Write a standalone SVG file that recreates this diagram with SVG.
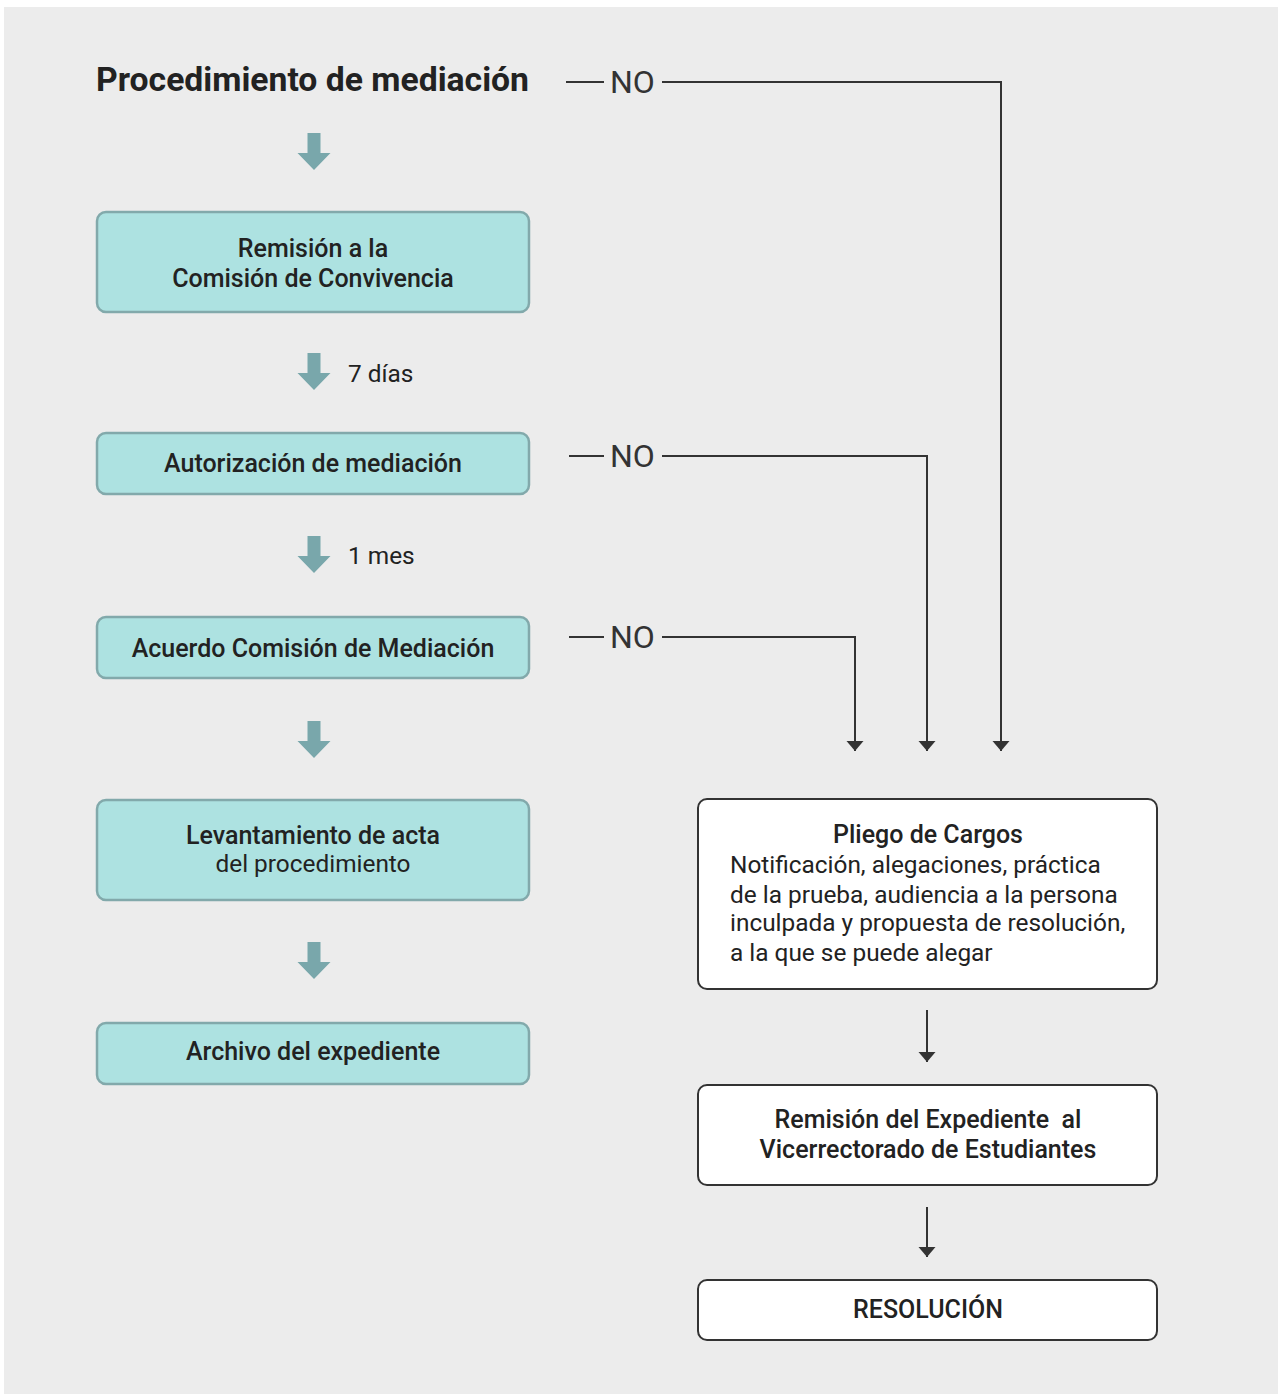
<svg xmlns="http://www.w3.org/2000/svg" width="1278" height="1394" viewBox="0 0 1278 1394">
<style>
  text{font-family:Roboto,"Liberation Sans",sans-serif;fill:#222}
  .t{font-size:33px;font-weight:700}
  .b{font-size:25px;font-weight:500;text-anchor:middle;white-space:pre}
  .r{font-size:24.4px;font-weight:400}
  .rc{font-size:24.4px;font-weight:400;text-anchor:middle}
  .no{font-size:32px;font-weight:400;fill:#333}
  .teal{fill:#ade2e1;stroke:#82a9ab;stroke-width:2.5}
  .wb{fill:#fff;stroke:#333;stroke-width:2}
  .ln{fill:none;stroke:#333;stroke-width:2}
  .thk{fill:#79a7ab}
</style>
<defs>
  <marker id="ah" markerUnits="userSpaceOnUse" viewBox="0 -9 10 18" markerWidth="10" markerHeight="18" refX="10" refY="0" orient="auto">
    <path d="M0,-8.5 L10,0 L0,8.5 z" fill="#333"/>
  </marker>
  <path id="fat" d="M-6.5,0 H6.5 V20 H16.5 L0,37 L-16.5,20 H-6.5 z"/>
</defs>
<rect x="4" y="7" width="1274" height="1387" fill="#ececec"/>

<g id="title"><text class="t" x="96" y="91" textLength="433" lengthAdjust="spacingAndGlyphs">Procedimiento de mediación</text></g>

<g id="fat-arrows" class="thk">
  <use href="#fat" x="314" y="133"/>
  <use href="#fat" x="314" y="353"/>
  <use href="#fat" x="314" y="536"/>
  <use href="#fat" x="314" y="721"/>
  <use href="#fat" x="314" y="942"/>
</g>
<g id="labels">
  <text class="r" x="348" y="382">7 días</text>
  <text class="r" x="348" y="564">1 mes</text>
</g>

<g id="n-remision">
  <rect class="teal" x="97" y="212" width="432" height="100" rx="9"/>
  <text class="b" x="313" y="257">Remisión a la</text>
  <text class="b" x="313" y="287">Comisión de Convivencia</text>
</g>
<g id="n-autorizacion">
  <rect class="teal" x="97" y="433" width="432" height="61" rx="9"/>
  <text class="b" x="313" y="472">Autorización de mediación</text>
</g>
<g id="n-acuerdo">
  <rect class="teal" x="97" y="617" width="432" height="61" rx="9"/>
  <text class="b" x="313" y="657">Acuerdo Comisión de Mediación</text>
</g>
<g id="n-levantamiento">
  <rect class="teal" x="97" y="800" width="432" height="100" rx="9"/>
  <text class="b" x="313" y="844">Levantamiento de acta</text>
  <text class="rc" x="313" y="872">del procedimiento</text>
</g>
<g id="n-archivo">
  <rect class="teal" x="97" y="1023" width="432" height="61" rx="9"/>
  <text class="b" x="313" y="1060">Archivo del expediente</text>
</g>

<g id="n-pliego">
  <rect class="wb" x="698" y="799" width="459" height="190" rx="9"/>
  <text class="b" x="928" y="843">Pliego de Cargos</text>
  <text class="r" x="730" y="873">Notificación, alegaciones, práctica</text>
  <text class="r" x="730" y="903">de la prueba, audiencia a la persona</text>
  <text class="r" x="730" y="931">inculpada y propuesta de resolución,</text>
  <text class="r" x="730" y="961">a la que se puede alegar</text>
</g>
<g id="n-remision-exp">
  <rect class="wb" x="698" y="1085" width="459" height="100" rx="9"/>
  <text class="b" x="928" y="1128" xml:space="preserve">Remisión del Expediente  al</text>
  <text class="b" x="928" y="1158">Vicerrectorado de Estudiantes</text>
</g>
<g id="n-resolucion">
  <rect class="wb" x="698" y="1280" width="459" height="60" rx="9"/>
  <text class="b" x="928" y="1318">RESOLUCIÓN</text>
</g>

<g id="connectors">
  <path class="ln" d="M566,82 H604"/>
  <text class="no" x="610" y="93">NO</text>
  <path class="ln" d="M662,82 H1001 V751" marker-end="url(#ah)"/>
  <path class="ln" d="M569,456 H604"/>
  <text class="no" x="610" y="467">NO</text>
  <path class="ln" d="M662,456 H927 V751" marker-end="url(#ah)"/>
  <path class="ln" d="M569,637 H604"/>
  <text class="no" x="610" y="648">NO</text>
  <path class="ln" d="M662,637 H855 V751" marker-end="url(#ah)"/>
  <path class="ln" d="M927,1010 V1062" marker-end="url(#ah)"/>
  <path class="ln" d="M927,1207 V1257" marker-end="url(#ah)"/>
</g>
</svg>
